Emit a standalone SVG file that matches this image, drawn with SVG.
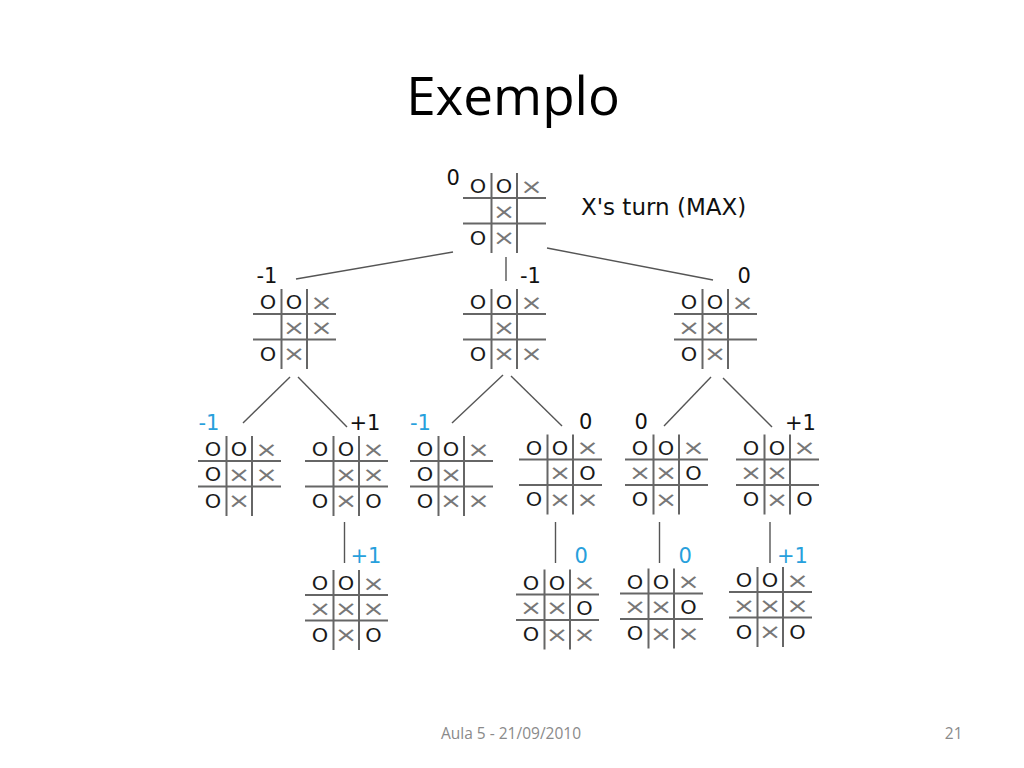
<svg xmlns="http://www.w3.org/2000/svg" xmlns:xlink="http://www.w3.org/1999/xlink" width="1024" height="768" viewBox="0 0 1024 768">
<style>
.title{font-family:"Open Sans","Liberation Sans",sans-serif;font-size:53px;fill:#000;text-anchor:middle}
.foot{font-family:"Open Sans","Liberation Sans",sans-serif;font-size:15.5px;fill:#8a8a8a}
.lbl{font-family:"DejaVu Sans","Liberation Sans",sans-serif;font-size:21px;fill:#111}
.blue{fill:#27a0dc}
.note{font-family:"DejaVu Sans","Liberation Sans",sans-serif;font-size:23px;fill:#111}
.o{font-family:"DejaVu Sans","Liberation Sans",sans-serif;font-size:19px;fill:#1a1a1a;text-anchor:middle;transform-box:fill-box;transform-origin:center;transform:scaleX(1.1)}
.x{font-family:"DejaVu Sans","Liberation Sans",sans-serif;font-size:21.5px;fill:#777;text-anchor:middle;transform-box:fill-box;transform-origin:center;transform:scaleX(1.25)}
.gl{stroke:#666;stroke-width:2;fill:none}
.cn{stroke:#555;stroke-width:1.4;fill:none}
</style>
<defs>
<g id="grid">
<path class="gl" d="M0 0H83M0 25.5H83M28.5 -25V55M54 -25V55"/>
</g>
</defs>
<rect width="1024" height="768" fill="#fff"/>
<text class="title" x="513" y="115">Exemplo</text>
<text class="note" x="581" y="214.5">X's turn (MAX)</text>

<g id="connectors">
<path class="cn" d="M453 252L296 279"/>
<path class="cn" d="M506 257V281"/>
<path class="cn" d="M547 248L713 280"/>
<path class="cn" d="M290 377L243 423"/>
<path class="cn" d="M298 377L347 427"/>
<path class="cn" d="M503 375L452 423"/>
<path class="cn" d="M511 376L562 426"/>
<path class="cn" d="M711 377L664 426"/>
<path class="cn" d="M723 378L772 427"/>
<path class="cn" d="M344.5 522V563"/>
<path class="cn" d="M555.5 522V563"/>
<path class="cn" d="M659.5 522V563"/>
<path class="cn" d="M770 522V563"/>
</g>

<!-- root -->
<g id="root" transform="translate(463,198)">
<use xlink:href="#grid"/>
<text class="o" x="15" y="-5">O</text><text class="o" x="41" y="-5">O</text><text class="x" x="68.5" y="-4.5">×</text>
<text class="x" x="41" y="21">×</text>
<text class="o" x="15" y="47">O</text><text class="x" x="41" y="47.5">×</text>
</g>
<text class="lbl" x="446.5" y="185">0</text>

<!-- level 1 -->
<g id="n1a" transform="translate(253,314)">
<use xlink:href="#grid"/>
<text class="o" x="15" y="-5">O</text><text class="o" x="41" y="-5">O</text><text class="x" x="68.5" y="-4.5">×</text>
<text class="x" x="41" y="21">×</text><text class="x" x="68.5" y="21">×</text>
<text class="o" x="15" y="47">O</text><text class="x" x="41" y="47.5">×</text>
</g>
<text class="lbl" x="256.5" y="283">-1</text>

<g id="n1b" transform="translate(463,314)">
<use xlink:href="#grid"/>
<text class="o" x="15" y="-5">O</text><text class="o" x="41" y="-5">O</text><text class="x" x="68.5" y="-4.5">×</text>
<text class="x" x="41" y="21">×</text>
<text class="o" x="15" y="47">O</text><text class="x" x="41" y="47.5">×</text><text class="x" x="68.5" y="47.5">×</text>
</g>
<text class="lbl" x="520" y="282.5">-1</text>

<g id="n1c" transform="translate(674,314)">
<use xlink:href="#grid"/>
<text class="o" x="15" y="-5">O</text><text class="o" x="41" y="-5">O</text><text class="x" x="68.5" y="-4.5">×</text>
<text class="x" x="15" y="21">×</text><text class="x" x="41" y="21">×</text>
<text class="o" x="15" y="47">O</text><text class="x" x="41" y="47.5">×</text>
</g>
<text class="lbl" x="737.5" y="282.5">0</text>

<!-- level 2 -->
<g id="n2a" transform="translate(198,461)">
<use xlink:href="#grid"/>
<text class="o" x="15" y="-5">O</text><text class="o" x="41" y="-5">O</text><text class="x" x="68.5" y="-4.5">×</text>
<text class="o" x="15" y="20.5">O</text><text class="x" x="41" y="21">×</text><text class="x" x="68.5" y="21">×</text>
<text class="o" x="15" y="47">O</text><text class="x" x="41" y="47.5">×</text>
</g>
<text class="lbl blue" x="198.5" y="430">-1</text>

<g id="n2b" transform="translate(305,461)">
<use xlink:href="#grid"/>
<text class="o" x="15" y="-5">O</text><text class="o" x="41" y="-5">O</text><text class="x" x="68.5" y="-4.5">×</text>
<text class="x" x="41" y="21">×</text><text class="x" x="68.5" y="21">×</text>
<text class="o" x="15" y="47">O</text><text class="x" x="41" y="47.5">×</text><text class="o" x="68.5" y="47">O</text>
</g>
<text class="lbl" x="349.5" y="430">+1</text>

<g id="n2c" transform="translate(410,461)">
<use xlink:href="#grid"/>
<text class="o" x="15" y="-5">O</text><text class="o" x="41" y="-5">O</text><text class="x" x="68.5" y="-4.5">×</text>
<text class="o" x="15" y="20.5">O</text><text class="x" x="41" y="21">×</text>
<text class="o" x="15" y="47">O</text><text class="x" x="41" y="47.5">×</text><text class="x" x="68.5" y="47.5">×</text>
</g>
<text class="lbl blue" x="410" y="430">-1</text>

<g id="n2d" transform="translate(519,459.5)">
<use xlink:href="#grid"/>
<text class="o" x="15" y="-5">O</text><text class="o" x="41" y="-5">O</text><text class="x" x="68.5" y="-4.5">×</text>
<text class="x" x="41" y="21">×</text><text class="o" x="68.5" y="20.5">O</text>
<text class="o" x="15" y="47">O</text><text class="x" x="41" y="47.5">×</text><text class="x" x="68.5" y="47.5">×</text>
</g>
<text class="lbl" x="579" y="429">0</text>

<g id="n2e" transform="translate(625,459.5)">
<use xlink:href="#grid"/>
<text class="o" x="15" y="-5">O</text><text class="o" x="41" y="-5">O</text><text class="x" x="68.5" y="-4.5">×</text>
<text class="x" x="15" y="21">×</text><text class="x" x="41" y="21">×</text><text class="o" x="68.5" y="20.5">O</text>
<text class="o" x="15" y="47">O</text><text class="x" x="41" y="47.5">×</text>
</g>
<text class="lbl" x="634.5" y="429">0</text>

<g id="n2f" transform="translate(736,459.5)">
<use xlink:href="#grid"/>
<text class="o" x="15" y="-5">O</text><text class="o" x="41" y="-5">O</text><text class="x" x="68.5" y="-4.5">×</text>
<text class="x" x="15" y="21">×</text><text class="x" x="41" y="21">×</text>
<text class="o" x="15" y="47">O</text><text class="x" x="41" y="47.5">×</text><text class="o" x="68.5" y="47">O</text>
</g>
<text class="lbl" x="785" y="430">+1</text>

<!-- level 3 -->
<g id="n3a" transform="translate(305,595)">
<use xlink:href="#grid"/>
<text class="o" x="15" y="-5">O</text><text class="o" x="41" y="-5">O</text><text class="x" x="68.5" y="-4.5">×</text>
<text class="x" x="15" y="21">×</text><text class="x" x="41" y="21">×</text><text class="x" x="68.5" y="21">×</text>
<text class="o" x="15" y="47">O</text><text class="x" x="41" y="47.5">×</text><text class="o" x="68.5" y="47">O</text>
</g>
<text class="lbl blue" x="350.5" y="563">+1</text>

<g id="n3b" transform="translate(516,594.5)">
<use xlink:href="#grid"/>
<text class="o" x="15" y="-5">O</text><text class="o" x="41" y="-5">O</text><text class="x" x="68.5" y="-4.5">×</text>
<text class="x" x="15" y="21">×</text><text class="x" x="41" y="21">×</text><text class="o" x="68.5" y="20.5">O</text>
<text class="o" x="15" y="47">O</text><text class="x" x="41" y="47.5">×</text><text class="x" x="68.5" y="47.5">×</text>
</g>
<text class="lbl blue" x="574.5" y="563">0</text>

<g id="n3c" transform="translate(620,593.5)">
<use xlink:href="#grid"/>
<text class="o" x="15" y="-5">O</text><text class="o" x="41" y="-5">O</text><text class="x" x="68.5" y="-4.5">×</text>
<text class="x" x="15" y="21">×</text><text class="x" x="41" y="21">×</text><text class="o" x="68.5" y="20.5">O</text>
<text class="o" x="15" y="47">O</text><text class="x" x="41" y="47.5">×</text><text class="x" x="68.5" y="47.5">×</text>
</g>
<text class="lbl blue" x="678.5" y="563">0</text>

<g id="n3d" transform="translate(729,592)">
<use xlink:href="#grid"/>
<text class="o" x="15" y="-5">O</text><text class="o" x="41" y="-5">O</text><text class="x" x="68.5" y="-4.5">×</text>
<text class="x" x="15" y="21">×</text><text class="x" x="41" y="21">×</text><text class="x" x="68.5" y="21">×</text>
<text class="o" x="15" y="47">O</text><text class="x" x="41" y="47.5">×</text><text class="o" x="68.5" y="47">O</text>
</g>
<text class="lbl blue" x="777" y="563">+1</text>

<text class="foot" x="441" y="739">Aula 5 - 21/09/2010</text>
<text class="foot" x="962.5" y="738.5" text-anchor="end">21</text>
</svg>
